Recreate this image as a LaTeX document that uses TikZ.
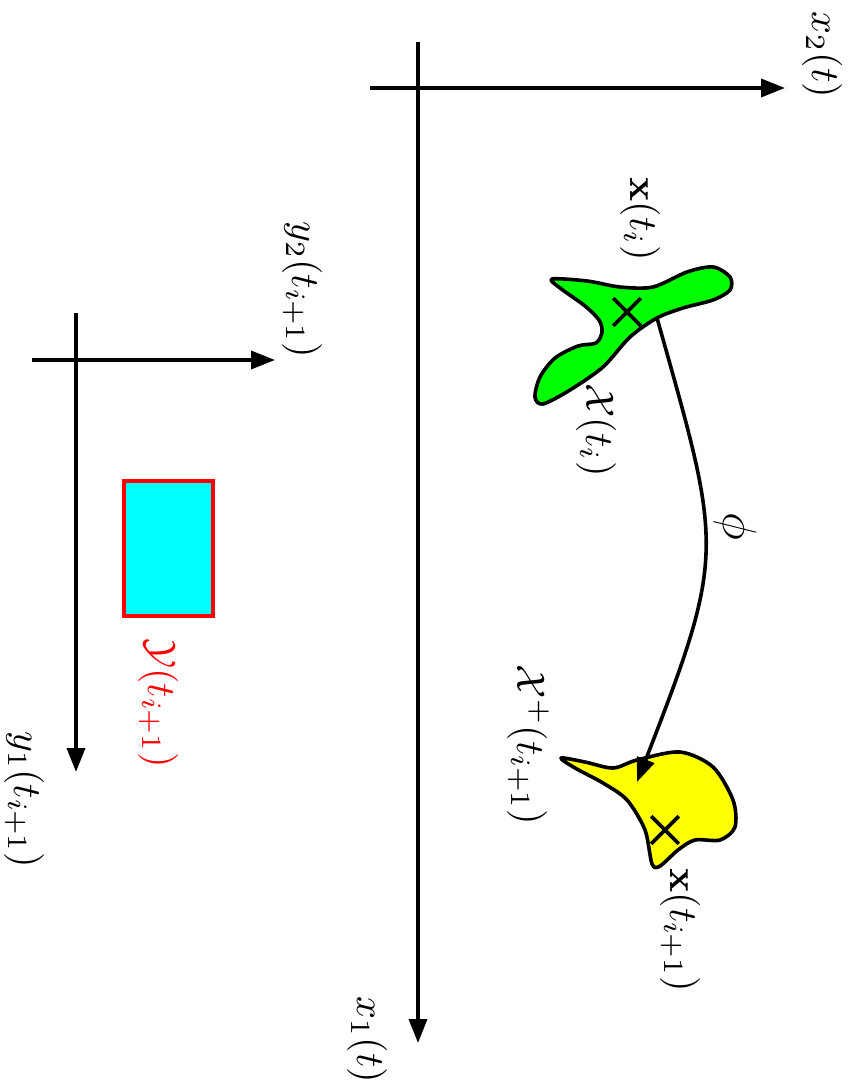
\documentclass[tikz,border=0pt]{standalone}
\usepackage{amsmath, amssymb}
\usepackage{xcolor}
\usepackage{tikz}
\usetikzlibrary{arrows.meta, positioning, shapes.misc}

\definecolor{blobgreen}{RGB}{0,255,0}
\definecolor{blobyellow}{RGB}{255,255,0}
\definecolor{boxcyan}{RGB}{0,255,255}
\definecolor{boxred}{RGB}{255,0,0}

\begin{document}
\begin{tikzpicture}[x=0.25pt, y=-0.25pt,
    axis/.style={line width=0.9pt, -{Triangle[length=6pt, width=4.5pt]}},
    blob/.style={draw, line width=0.9pt, line join=round},
    lbl/.style={rotate=-90, inner sep=0pt},
    xmark/.style={cross out, draw, line width=0.9pt, minimum size=6pt, inner sep=0pt}]
  \useasboundingbox (0,0) rectangle (858,1089);

  \coordinate (x2L) at (370,88);
  \coordinate (x2R) at (785,88);
  \coordinate (x1T) at (418,42);
  \coordinate (x1B) at (418,1043);
  \draw[axis] (x2L) -- (x2R);
  \draw[axis] (x1T) -- (x1B);
  \node[lbl] (x2lab) at (822,55) {$x_2(t)$};
  \node[lbl] (x1lab) at (367,1040) {$x_1(t)$};

  \coordinate (y2L) at (32,360);
  \coordinate (y2R) at (275,360);
  \coordinate (y1T) at (76,313);
  \coordinate (y1B) at (76,772);
  \draw[axis] (y2L) -- (y2R);
  \draw[axis] (y1T) -- (y1B);
  \node[lbl] (y2lab) at (302,290) {$y_2(t_{i+1})$};
  \node[lbl] (y1lab) at (24,800) {$y_1(t_{i+1})$};

  \draw[boxred, line width=0.9pt, fill=boxcyan] (124,481) rectangle (213,616);
  \node[lbl, boxred] (ylab) at (158,703) {$\mathcal{Y}(t_{i+1})$};

  \draw[blob, fill=blobgreen] plot[smooth cycle, tension=0.5] coordinates {
    (552,279) (587,281) (620,287) (653,287) (687,272) (713,267) (730,277)
    (730,290) (713,300) (683,308) (657,318) (630,337) (603,367) (570,390)
    (543,404) (535,397) (540,377) (555,358) (578,346) (596,343) (602,332)
    (599,320) (585,306) (560,288)};
  \node[xmark] (xi) at (627,312) {};
  \node[lbl] (xilab) at (640,219) {$\mathbf{x}(t_i)$};
  \node[lbl] (Xilab) at (596,430) {$\mathcal{X}(t_i)$};

  \draw[blob, fill=blobyellow] plot[smooth cycle, tension=0.5] coordinates {
    (561,758) (585,762) (613,768) (637,760) (680,752) (713,767) (733,800)
    (735,827) (720,840) (695,840) (678,850) (660,866) (652,864) (645,830)
    (627,800) (603,783) (575,768)};
  \node[xmark] (xn) at (665,830) {};
  \node[lbl] (Xnlab) at (528,745) {$\mathcal{X}^+(t_{i+1})$};
  \node[lbl] (xnlab) at (680,930) {$\mathbf{x}(t_{i+1})$};

  \coordinate (phiS) at (657,318);
  \coordinate (phiE) at (637,782);
  \draw[axis] (phiS) .. controls (722,549) and (727,551) .. (phiE);
  \node[lbl, font=\large] (philab) at (735,526) {$\phi$};
\end{tikzpicture}
\end{document}
